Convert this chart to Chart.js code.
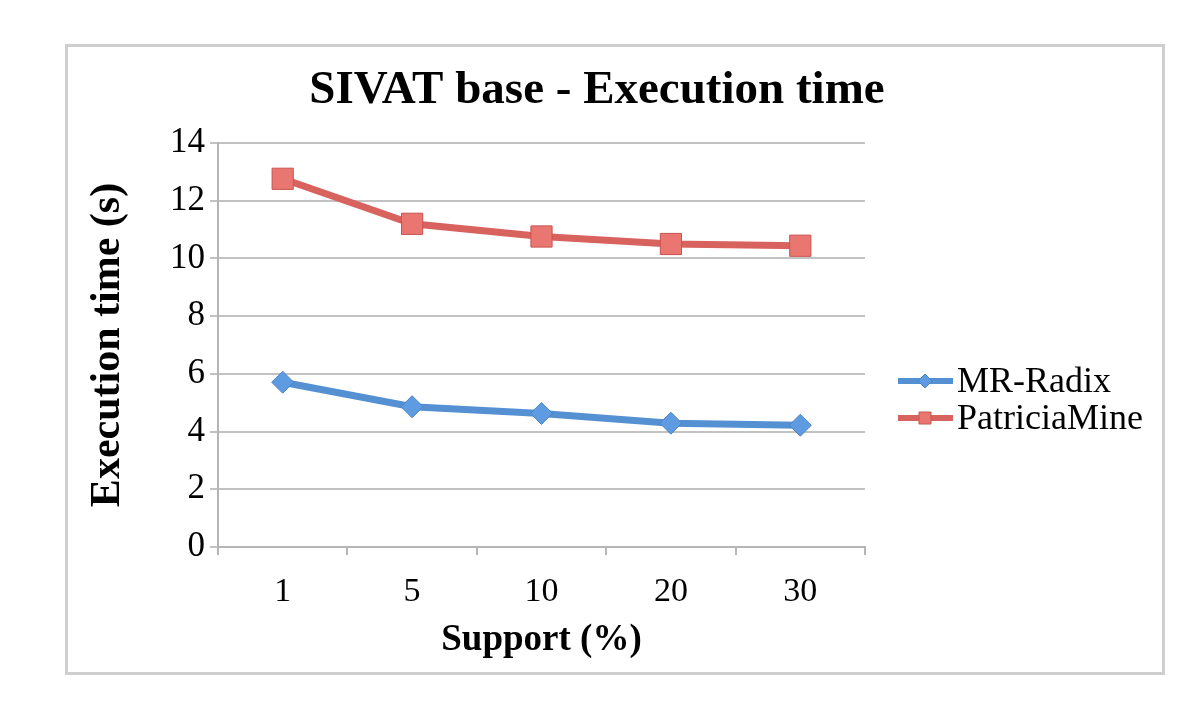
<!DOCTYPE html>
<html lang="en">
<head>
    <meta charset="UTF-8">
    <title>SIVAT base - Execution time</title>
    <script src="https://cdn.jsdelivr.net/npm/chart.js"></script>
    <style>
        body { margin: 0; background: #fff; }
        #frame {
            position: absolute; left: 65px; top: 44px;
            width: 1094px; height: 625px;
            border: 3px solid #cfcfcf;
        }
    </style>
</head>
<body>
    <div id="frame"><canvas id="chart" width="1094" height="625"></canvas></div>

    <script>
        const supports = ['1', '5', '10', '20', '30'];
        const mrRadix = [5.71, 4.86, 4.63, 4.29, 4.22];
        const patriciaMine = [12.76, 11.2, 10.76, 10.5, 10.44];
        const yTicks = [0, 2, 4, 6, 8, 10, 12, 14];

        const serif = '"Liberation Serif", "Times New Roman", serif';

        // title and legend drawn by hand so they sit where the original has them
        const decorations = {
            id: 'decorations',
            afterDraw(chart) {
                const ctx = chart.ctx;
                ctx.save();
                ctx.fillStyle = '#000';
                ctx.font = 'bold 47px ' + serif;
                ctx.textAlign = 'center';
                ctx.textBaseline = 'middle';
                ctx.fillText('SIVAT base - Execution time', 529, 44);

                ctx.font = '36px ' + serif;
                ctx.textAlign = 'left';
                chart.data.datasets.forEach((ds, i) => {
                    const y = 334 + i * 37;
                    ctx.strokeStyle = ds.borderColor;
                    ctx.lineWidth = 6;
                    ctx.beginPath();
                    ctx.moveTo(830, y);
                    ctx.lineTo(885, y);
                    ctx.stroke();
                    ctx.fillStyle = ds.pointBackgroundColor;
                    ctx.strokeStyle = ds.pointBorderColor;
                    ctx.lineWidth = 1;
                    ctx.beginPath();
                    if (ds.pointStyle === 'rect') {
                        ctx.rect(851, y - 6, 12, 12);
                    } else {
                        ctx.moveTo(857, y - 7); ctx.lineTo(864, y);
                        ctx.lineTo(857, y + 7); ctx.lineTo(850, y);
                        ctx.closePath();
                    }
                    ctx.fill();
                    ctx.stroke();
                    ctx.fillStyle = '#000';
                    ctx.fillText(ds.label, 889, y + 2);
                });
                ctx.restore();
            }
        };

        new Chart(document.getElementById('chart'), {
            type: 'line',
            data: {
                labels: supports,
                datasets: [{
                    label: 'MR-Radix',
                    data: mrRadix,
                    borderColor: '#5590d3',
                    borderWidth: 7,
                    pointStyle: 'rectRot',
                    pointRadius: 11,
                    pointBackgroundColor: '#5f9be0',
                    pointBorderColor: '#4a84c8',
                    pointBorderWidth: 1
                }, {
                    label: 'PatriciaMine',
                    data: patriciaMine,
                    borderColor: '#d8625e',
                    borderWidth: 7,
                    pointStyle: 'rect',
                    pointRadius: 15,
                    pointBackgroundColor: '#ea7671',
                    pointBorderColor: '#c85450',
                    pointBorderWidth: 1
                }]
            },
            options: {
                responsive: false,
                animation: false,
                layout: { padding: { top: 96, right: 297, left: 0, bottom: 0 } },
                plugins: {
                    legend: { display: false },
                    title: { display: false },
                    tooltip: { enabled: false }
                },
                scales: {
                    x: {
                        offset: true,
                        afterFit: s => { s.height = 125; },
                        grid: {
                            offset: true,
                            drawOnChartArea: false,
                            tickLength: 8,
                            color: '#b5b5b5',
                            lineWidth: 2
                        },
                        border: { color: '#b5b5b5', width: 2 },
                        ticks: {
                            color: '#000',
                            padding: 17,
                            font: { family: serif, size: 34 }
                        },
                        title: {
                            display: true,
                            text: 'Support (%)',
                            color: '#000',
                            padding: { top: 0, bottom: 9 },
                            font: { family: serif, size: 37, weight: 'bold' }
                        }
                    },
                    y: {
                        min: 0,
                        max: 14,
                        afterFit: s => { s.width = 150; },
                        afterBuildTicks: s => { s.ticks = yTicks.map(v => ({ value: v })); },
                        grid: {
                            tickLength: 8,
                            color: '#c2c2c2',
                            lineWidth: 2
                        },
                        border: { color: '#b5b5b5', width: 2 },
                        ticks: {
                            color: '#000',
                            padding: 5,
                            font: { family: serif, size: 35 }
                        },
                        title: {
                            display: true,
                            text: 'Execution time (s)',
                            color: '#000',
                            padding: { top: 15, bottom: 0 },
                            font: { family: serif, size: 42, weight: 'bold' }
                        }
                    }
                }
            },
            plugins: [decorations]
        });
    </script>
</body>
</html>
